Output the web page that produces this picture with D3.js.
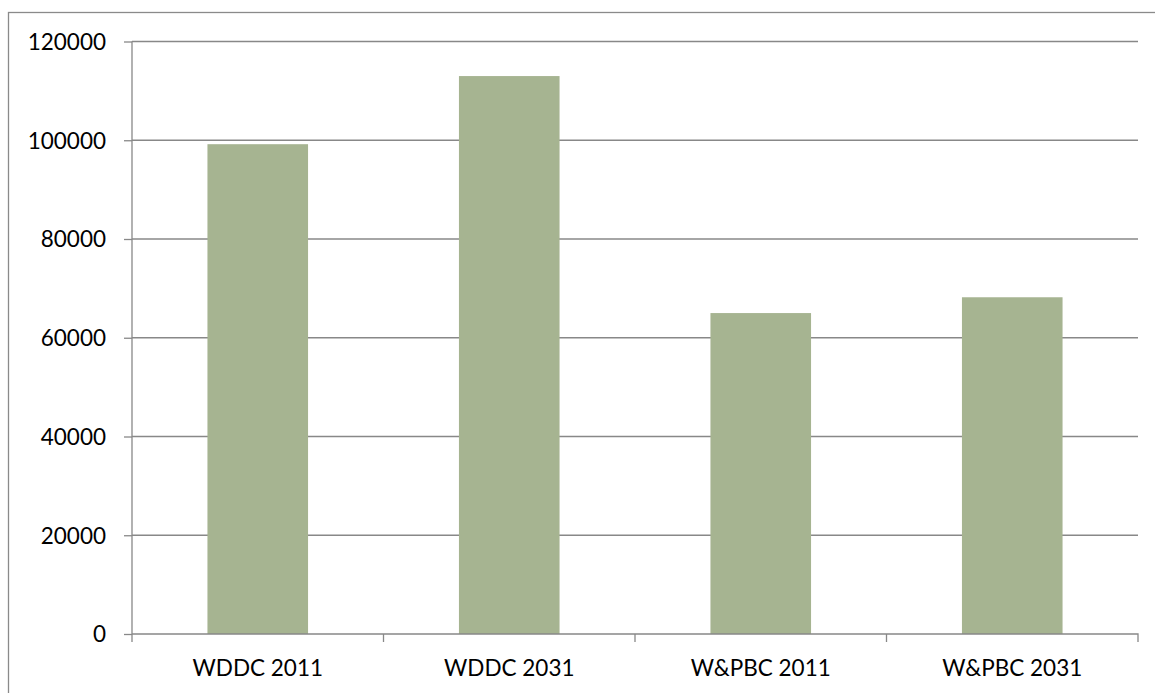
<!DOCTYPE html>
<html>
<head>
<meta charset="utf-8">
<script src="https://cdn.jsdelivr.net/npm/d3@7"></script>
<style>
  body { margin: 0; background: #fff; }
  text { font-family: Lato, "Open Sans", sans-serif; fill: #000; }
</style>
</head>
<body>
<div id="chart"></div>
<script>
const categories = ["WDDC 2011", "WDDC 2031", "W&PBC 2011", "W&PBC 2031"];
const values = [99200, 113000, 65000, 68200];
const yTicks = [0, 20000, 40000, 60000, 80000, 100000, 120000];

const width = 1155, height = 693;
const margin = {left: 132, right: 17, top: 41.5, bottom: 59};

let svg = d3.select("#chart")
    .append("svg")
    .attr("width", width)
    .attr("height", height);

// outer chart border (cut off at right and bottom)
svg.append("rect")
    .attr("x", 8.5)
    .attr("y", 12.5)
    .attr("width", 1200)
    .attr("height", 800)
    .attr("fill", "none")
    .attr("stroke", "#8a8a8a")
    .attr("stroke-width", 1.3);

let x = d3.scaleBand()
    .domain(categories)
    .range([margin.left, width - margin.right])
    .paddingInner(0.6)
    .paddingOuter(0.3);

let xOuter = d3.scaleBand()
    .domain(categories)
    .range([margin.left, width - margin.right]);

let y = d3.scaleLinear()
    .domain([0, 120000])
    .range([height - margin.bottom, margin.top]);

// gridlines
svg.append("g")
    .selectAll("line")
    .data(yTicks.filter(d => d > 0))
    .enter()
    .append("line")
    .attr("x1", margin.left)
    .attr("x2", width - margin.right)
    .attr("y1", d => y(d))
    .attr("y2", d => y(d))
    .attr("stroke", "#888")
    .attr("stroke-width", 1.3);

// bars
svg.append("g")
    .selectAll("rect")
    .data(values)
    .enter()
    .append("rect")
    .attr("x", (d, i) => x(categories[i]))
    .attr("y", d => y(d))
    .attr("width", x.bandwidth())
    .attr("height", d => y(0) - y(d))
    .attr("fill", "#a6b491");

// y axis
let yAxis = svg.append("g")
    .attr("transform", `translate(${margin.left}, 0)`)
    .call(d3.axisLeft(y).tickValues(yTicks).tickFormat(d3.format("d")).tickSize(8).tickPadding(18));
yAxis.selectAll("path, line").attr("stroke", "#888").attr("stroke-width", 1.3);
yAxis.select(".domain").attr("d", `M0,${y(0)}V${margin.top}`);
yAxis.selectAll("text").style("font-size", "22.5px").attr("dy", "0.35em");

// x axis
let xAxis = svg.append("g")
    .attr("transform", `translate(0, ${y(0)})`)
    .call(d3.axisBottom(xOuter).tickSize(0).tickPadding(26));
xAxis.select(".domain").attr("d", `M${margin.left},0H${width - margin.right}V8`)
    .attr("stroke", "#888").attr("stroke-width", 1.3).attr("fill", "none");
xAxis.selectAll("text").style("font-size", "22.5px");

// category separators
svg.append("g")
    .selectAll("line")
    .data(categories)
    .enter()
    .append("line")
    .attr("x1", d => xOuter(d))
    .attr("x2", d => xOuter(d))
    .attr("y1", y(0))
    .attr("y2", y(0) + 8)
    .attr("stroke", "#888")
    .attr("stroke-width", 1.3);
</script>
</body>
</html>
